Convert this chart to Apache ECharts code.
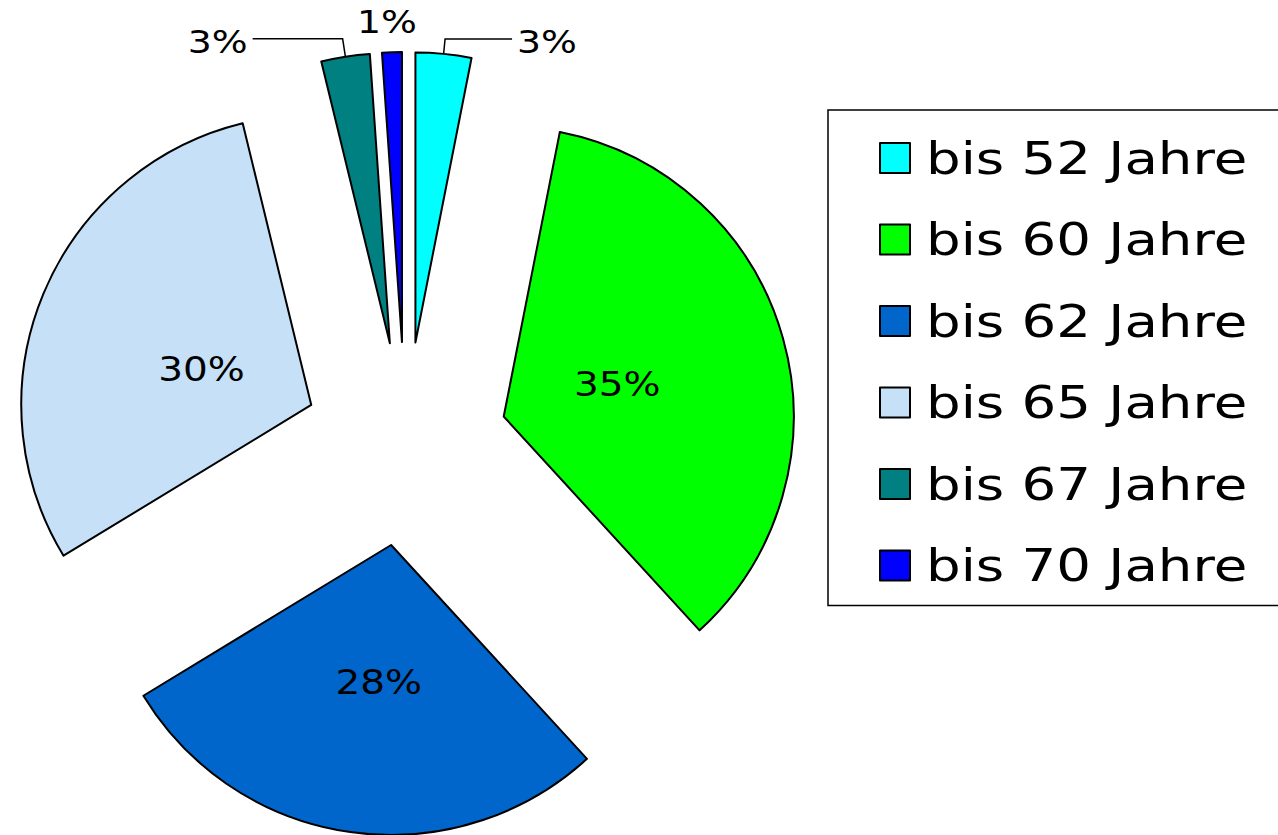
<!DOCTYPE html>
<html>
<head>
<meta charset="utf-8">
<title>Altersgruppen</title>
<script src="https://cdn.jsdelivr.net/npm/echarts@6/dist/echarts.min.js"></script>
<style>
  html, body { margin: 0; padding: 0; background: #fff; }
  #chart { width: 1278px; height: 835px; }
</style>
</head>
<body>
<div id="chart"></div>
<script>
// Kategorien und Anteile (%)
var categories = ['bis 52 Jahre', 'bis 60 Jahre', 'bis 62 Jahre', 'bis 65 Jahre', 'bis 67 Jahre', 'bis 70 Jahre'];
var shares = [3.1, 35.1, 28.1, 29.9, 2.7, 1.1];
var colors = ['#00FFFF', '#00FF00', '#0066CC', '#C5E0F7', '#008080', '#0000FF'];

// kleine Stuecke: Beschriftung aussen (Index -> Linie)
var outerLabels = {
  0: { show: true, length: 15, length2: 67, formatter: '\n{d}%', lineHeight: 6 },
  4: { show: true, length: 18, length2: 90, formatter: '\n{d}%', lineHeight: 6 },
  5: { show: false, length: 30, length2: -31, formatter: '{d}%', lineHeight: 32 }
};
// grosse Stuecke: Beschriftung etwas zur Mitte geschoben
var innerLabels = {
  1: { padding: [0, 58, 0, 0], formatter: '\n{d}%', lineHeight: 16 },
  2: { padding: [0, 0, 0, 17], formatter: '{d}%\n', lineHeight: 18 },
  3: { padding: [0, 0, 0, 54], formatter: '\n{d}%', lineHeight: 43 }
};

var font = 'DejaVu Sans';

var chart = echarts.init(document.getElementById('chart'), null, { renderer: 'svg' });

var data = categories.map(function (name, i) {
  var item = {
    name: name,
    value: shares[i],
    selected: true,
    itemStyle: { color: colors[i] }
  };
  var o = outerLabels[i];
  if (o) {
    item.label = { position: 'outside', fontSize: 32, formatter: o.formatter, lineHeight: o.lineHeight };
    item.labelLine = { show: o.show, length: o.length, length2: o.length2 };
  } else if (innerLabels[i]) {
    item.label = innerLabels[i];
  }
  return item;
});

var option = {
  backgroundColor: '#fff',
  animation: false,
  legend: {
    orient: 'vertical',
    left: 828,
    top: 110,
    padding: [23, 140, 15, 51],
    itemGap: 31.5,
    itemWidth: 30,
    itemHeight: 30,
    icon: 'rect',
    borderColor: '#000',
    borderWidth: 1.5,
    textStyle: {
      fontFamily: font,
      fontSize: 44,
      lineHeight: 50,
      color: '#000',
      padding: [0, 0, 0, 11]
    },
    data: categories
  },
  series: [
    {
      name: 'Alter',
      type: 'pie',
      center: [405.5, 444],
      radius: 290,
      startAngle: 90,
      clockwise: true,
      selectedMode: 'multiple',
      selectedOffset: 102,
      avoidLabelOverlap: false,
      percentPrecision: 0,
      silent: true,
      itemStyle: { borderColor: '#000', borderWidth: 2 },
      label: {
        show: true,
        position: 'inside',
        formatter: '{d}%',
        fontFamily: font,
        fontSize: 33,
        color: '#000'
      },
      labelLine: {
        lineStyle: { color: '#000', width: 1.5 }
      },
      emphasis: { disabled: true },
      data: data
    }
  ]
};

// die Schrift im Original ist breiter gezogen als DejaVu Sans
function stretchTexts() {
  var nodes = document.querySelectorAll('#chart svg text');
  for (var i = 0; i < nodes.length; i++) {
    var t = nodes[i];
    if (t.getAttribute('data-stretched')) continue;
    var w = t.getComputedTextLength();
    if (!w) continue;
    var k = /44px/.test(t.getAttribute('style') || '') ? 1.24 : 1.18;
    t.setAttribute('textLength', (w * k).toFixed(1));
    t.setAttribute('lengthAdjust', 'spacingAndGlyphs');
    t.setAttribute('data-stretched', '1');
  }
}

chart.on('finished', stretchTexts);
chart.setOption(option);
stretchTexts();
</script>
</body>
</html>
